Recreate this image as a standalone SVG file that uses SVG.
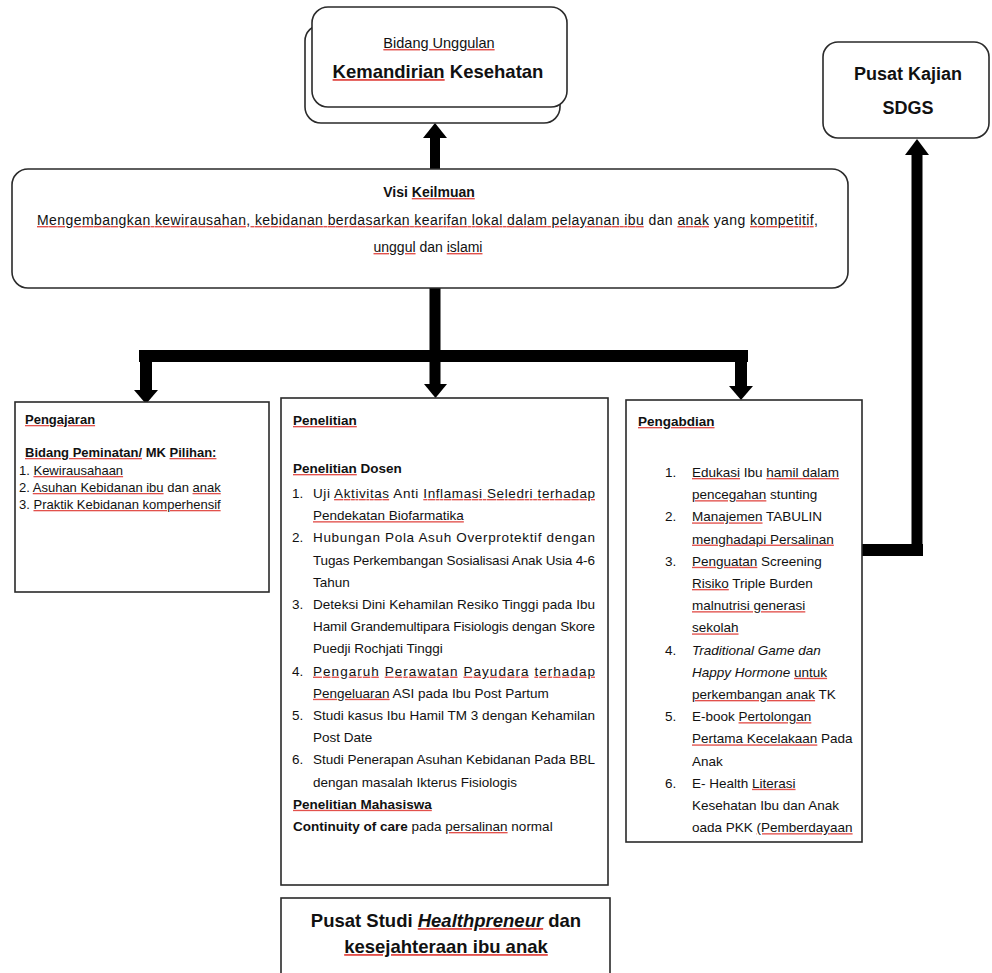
<svg xmlns="http://www.w3.org/2000/svg" width="992" height="973" viewBox="0 0 992 973">
<style>
.box{fill:#fff;stroke:#2a2a2a;stroke-width:1.6}
.t{font-family:"Liberation Sans",Arial,sans-serif;font-size:13.5px;fill:#111}
.s13{font-size:13px}
.s14{font-size:14px}
.b{font-weight:bold}
.i{font-style:italic}
.m{text-anchor:middle}
.sp{text-decoration:underline;fill:#e2514c}
.n{fill:#111}
.k{fill:#000}
</style>
<rect width="992" height="973" fill="#fff"/>

<g id="connectors">
  <rect class="k" x="430" y="136" width="10" height="33"/>
  <polygon class="k" points="423,138 435,123 447,138"/>
  <rect class="k" x="429.5" y="288" width="11" height="70"/>
  <rect class="k" x="139" y="350" width="609" height="12"/>
  <rect class="k" x="140" y="350" width="12" height="42"/>
  <polygon class="k" points="134,390 158,390 146,404"/>
  <rect class="k" x="429.5" y="360" width="11" height="25"/>
  <polygon class="k" points="424,384 447,384 435.5,398"/>
  <rect class="k" x="735" y="350" width="12" height="38"/>
  <polygon class="k" points="729,386 753,386 741,400"/>
  <rect class="k" x="862" y="544" width="61" height="12"/>
  <rect class="k" x="911.5" y="153" width="11" height="403"/>
  <polygon class="k" points="905,155 929,155 917,139"/>
</g>

<g id="bidang-unggulan">
  <rect class="box" x="305" y="25" width="255" height="98" rx="16"/>
  <rect class="box" x="312" y="7" width="255" height="100" rx="16"/>
  <text class="t m" x="439" y="48" style="font-size:14.5px"><tspan class="sp"><tspan class="n">Bidang Unggulan</tspan></tspan></text>
  <text class="t b m" x="438" y="78" style="font-size:18.5px"><tspan class="sp"><tspan class="n">Kemandirian</tspan></tspan> Kesehatan</text>
</g>

<g id="pusat-kajian-sdgs">
  <rect class="box" x="823" y="42" width="166" height="96" rx="15"/>
  <text class="t b m" x="908" y="80" style="font-size:18px">Pusat Kajian</text>
  <text class="t b m" x="908" y="114" style="font-size:18px">SDGS</text>
</g>

<g id="visi-keilmuan">
  <rect class="box" x="12" y="169" width="836" height="119" rx="16"/>
  <text class="t b m s14" x="429" y="197">Visi <tspan class="sp"><tspan class="n">Keilmuan</tspan></tspan></text>
  <text class="t s14" x="37" y="225" textLength="781" lengthAdjust="spacing"><tspan class="sp"><tspan class="n">Mengembangkan kewirausahan, kebidanan berdasarkan kearifan lokal dalam pelayanan ibu</tspan></tspan> dan <tspan class="sp"><tspan class="n">anak</tspan></tspan> yang <tspan class="sp"><tspan class="n">kompetitif,</tspan></tspan></text>
  <text class="t m s14" x="428" y="252"><tspan class="sp"><tspan class="n">unggul</tspan></tspan> dan <tspan class="sp"><tspan class="n">islami</tspan></tspan></text>
</g>

<g id="pengajaran">
  <rect class="box" x="15" y="402" width="254" height="190"/>
  <text class="t b s13" x="25" y="424"><tspan class="sp"><tspan class="n">Pengajaran</tspan></tspan></text>
  <text class="t b s13" x="25" y="457"><tspan class="sp"><tspan class="n">Bidang Peminatan/</tspan></tspan> MK <tspan class="sp"><tspan class="n">Pilihan:</tspan></tspan></text>
  <text class="t s13" x="19" y="475">1. <tspan class="sp"><tspan class="n">Kewirausahaan</tspan></tspan></text>
  <text class="t s13" x="19" y="492">2. <tspan class="sp"><tspan class="n">Asuhan Kebidanan ibu</tspan></tspan> dan <tspan class="sp"><tspan class="n">anak</tspan></tspan></text>
  <text class="t s13" x="19" y="509">3. <tspan class="sp"><tspan class="n">Praktik Kebidanan komperhensif</tspan></tspan></text>
</g>

<g id="penelitian">
  <rect class="box" x="281" y="398" width="327" height="487"/>
  <text class="t b" x="293" y="425"><tspan class="sp"><tspan class="n">Penelitian</tspan></tspan></text>
  <text class="t b" x="293" y="473"><tspan class="sp"><tspan class="n">Penelitian</tspan></tspan> Dosen</text>
  <text class="t" x="292" y="498">1.</text>
  <text class="t" x="313" y="498" textLength="282" lengthAdjust="spacing">Uji <tspan class="sp"><tspan class="n">Aktivitas</tspan></tspan> Anti <tspan class="sp"><tspan class="n">Inflamasi Seledri terhadap</tspan></tspan></text>
  <text class="t" x="313" y="520.2"><tspan class="sp"><tspan class="n">Pendekatan Biofarmatika</tspan></tspan></text>
  <text class="t" x="292" y="542.4">2.</text>
  <text class="t" x="313" y="542.4" textLength="282" lengthAdjust="spacing">Hubungan Pola Asuh Overprotektif dengan</text>
  <text class="t" x="313" y="564.6" textLength="282" lengthAdjust="spacing">Tugas Perkembangan Sosialisasi Anak Usia 4-6</text>
  <text class="t" x="313" y="586.8">Tahun</text>
  <text class="t" x="292" y="609">3.</text>
  <text class="t" x="313" y="609" textLength="282" lengthAdjust="spacing">Deteksi Dini Kehamilan Resiko Tinggi pada Ibu</text>
  <text class="t" x="313" y="631.2" textLength="282" lengthAdjust="spacing">Hamil Grandemultipara Fisiologis dengan Skore</text>
  <text class="t" x="313" y="653.4">Puedji Rochjati Tinggi</text>
  <text class="t" x="292" y="675.6">4.</text>
  <text class="t" x="313" y="675.6" textLength="282" lengthAdjust="spacing"><tspan class="sp"><tspan class="n">Pengaruh</tspan></tspan> <tspan class="sp"><tspan class="n">Perawatan</tspan></tspan> <tspan class="sp"><tspan class="n">Payudara</tspan></tspan> <tspan class="sp"><tspan class="n">terhadap</tspan></tspan></text>
  <text class="t" x="313" y="697.8"><tspan class="sp"><tspan class="n">Pengeluaran</tspan></tspan> ASI pada Ibu Post Partum</text>
  <text class="t" x="292" y="720">5.</text>
  <text class="t" x="313" y="720" textLength="282" lengthAdjust="spacing">Studi kasus Ibu Hamil TM 3 dengan Kehamilan</text>
  <text class="t" x="313" y="742.2">Post Date</text>
  <text class="t" x="292" y="764.4">6.</text>
  <text class="t" x="313" y="764.4" textLength="282" lengthAdjust="spacing">Studi Penerapan Asuhan Kebidanan Pada BBL</text>
  <text class="t" x="313" y="786.6">dengan masalah Ikterus Fisiologis</text>
  <text class="t b" x="293" y="808.8"><tspan class="sp"><tspan class="n">Penelitian Mahasiswa</tspan></tspan></text>
  <text class="t" x="293" y="831"><tspan class="b">Continuity of care</tspan> pada <tspan class="sp"><tspan class="n">persalinan</tspan></tspan> normal</text>
</g>

<g id="pengabdian">
  <rect class="box" x="626" y="400" width="236" height="442"/>
  <text class="t b" x="638" y="426"><tspan class="sp"><tspan class="n">Pengabdian</tspan></tspan></text>
  <text class="t" x="665" y="477">1.</text>
  <text class="t" x="692" y="477"><tspan class="sp"><tspan class="n">Edukasi</tspan></tspan> Ibu <tspan class="sp"><tspan class="n">hamil dalam</tspan></tspan></text>
  <text class="t" x="692" y="499.2"><tspan class="sp"><tspan class="n">pencegahan</tspan></tspan> stunting</text>
  <text class="t" x="665" y="521.4">2.</text>
  <text class="t" x="692" y="521.4"><tspan class="sp"><tspan class="n">Manajemen</tspan></tspan> TABULIN</text>
  <text class="t" x="692" y="543.6"><tspan class="sp"><tspan class="n">menghadapi Persalinan</tspan></tspan></text>
  <text class="t" x="665" y="565.8">3.</text>
  <text class="t" x="692" y="565.8"><tspan class="sp"><tspan class="n">Penguatan</tspan></tspan> Screening</text>
  <text class="t" x="692" y="588"><tspan class="sp"><tspan class="n">Risiko</tspan></tspan> Triple Burden</text>
  <text class="t" x="692" y="610.2"><tspan class="sp"><tspan class="n">malnutrisi generasi</tspan></tspan></text>
  <text class="t" x="692" y="632.4"><tspan class="sp"><tspan class="n">sekolah</tspan></tspan></text>
  <text class="t" x="665" y="654.6">4.</text>
  <text class="t i" x="692" y="654.6">Traditional Game dan</text>
  <text class="t" x="692" y="676.8"><tspan class="i">Happy Hormone</tspan> <tspan class="sp"><tspan class="n">untuk</tspan></tspan></text>
  <text class="t" x="692" y="699"><tspan class="sp"><tspan class="n">perkembangan anak</tspan></tspan> TK</text>
  <text class="t" x="665" y="721.2">5.</text>
  <text class="t" x="692" y="721.2">E-book <tspan class="sp"><tspan class="n">Pertolongan</tspan></tspan></text>
  <text class="t" x="692" y="743.4"><tspan class="sp"><tspan class="n">Pertama Kecelakaan</tspan></tspan> Pada</text>
  <text class="t" x="692" y="765.6">Anak</text>
  <text class="t" x="665" y="787.8">6.</text>
  <text class="t" x="692" y="787.8">E- Health <tspan class="sp"><tspan class="n">Literasi</tspan></tspan></text>
  <text class="t" x="692" y="810">Kesehatan Ibu dan Anak</text>
  <text class="t" x="692" y="832.2">oada PKK <tspan class="sp"><tspan class="n">(Pemberdayaan</tspan></tspan></text>
</g>

<g id="pusat-studi-healthpreneur">
  <rect class="box" x="281" y="898" width="329" height="85"/>
  <text class="t b m" x="446" y="927" style="font-size:18.5px">Pusat Studi <tspan class="i sp"><tspan class="n">Healthpreneur</tspan></tspan>  dan</text>
  <text class="t b m" x="446" y="953" style="font-size:18.5px"><tspan class="sp"><tspan class="n">kesejahteraan ibu anak</tspan></tspan></text>
</g>
</svg>
